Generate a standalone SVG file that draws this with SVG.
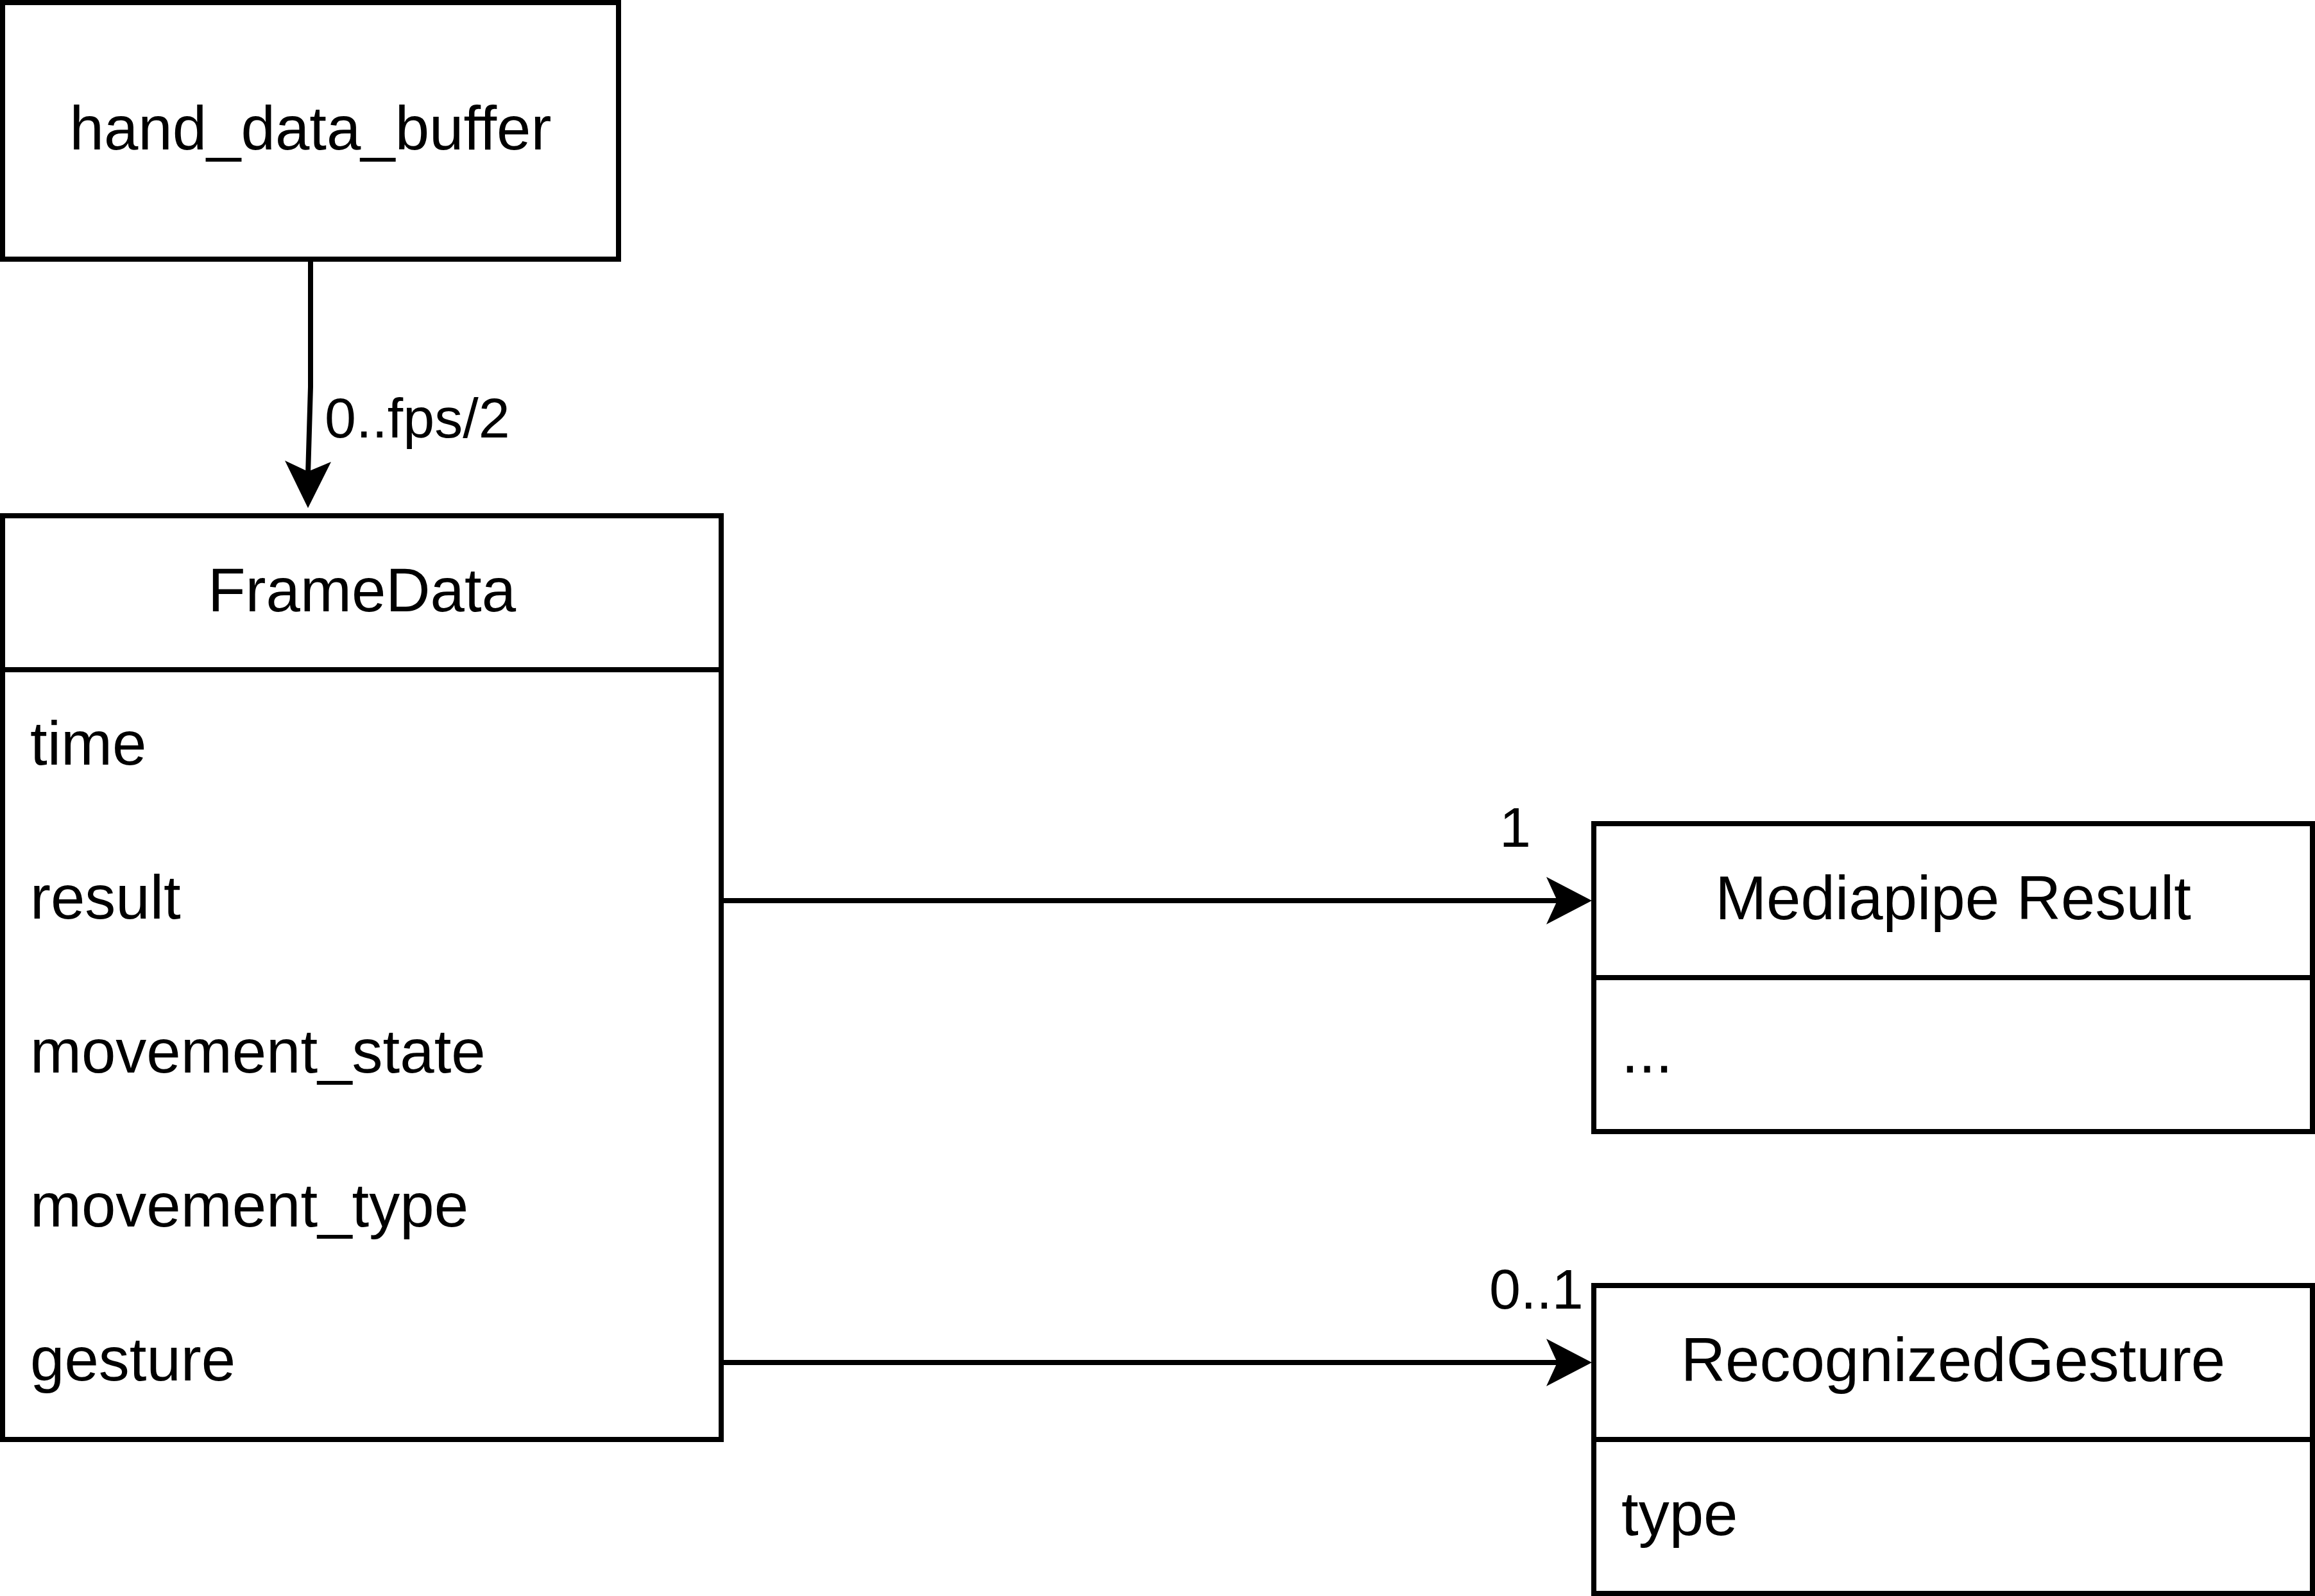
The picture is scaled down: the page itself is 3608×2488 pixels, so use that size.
<svg xmlns="http://www.w3.org/2000/svg" width="3608" height="2488" viewBox="0 0 3608 2488">
  <style>
    .box { fill: #ffffff; stroke: #000000; stroke-width: 8; }
    .div { stroke: #000000; stroke-width: 8; fill: none; }
    .edge { stroke: #000000; stroke-width: 8; fill: none; }
    .head { fill: #000000; stroke: none; }
    .t { font-family: "Liberation Sans", Arial, Helvetica, sans-serif; font-size: 96px; fill: #000000; }
    .c { text-anchor: middle; }
    .lbl { font-family: "Liberation Sans", Arial, Helvetica, sans-serif; font-size: 88px; fill: #000000; }
  </style>
  <rect x="0" y="0" width="3608" height="2488" fill="#ffffff"/>

  <g id="hand_data_buffer">
    <rect class="box" x="4" y="4" width="960" height="400"/>
    <text class="t c" x="484" y="233">hand_data_buffer</text>
  </g>

  <g id="FrameData">
    <rect class="box" x="4" y="804" width="1120" height="1440"/>
    <line class="div" x1="4" y1="1044" x2="1124" y2="1044"/>
    <text class="t c" x="564" y="953">FrameData</text>
    <text class="t" x="47" y="1192">time</text>
    <text class="t" x="47" y="1432">result</text>
    <text class="t" x="47" y="1672">movement_state</text>
    <text class="t" x="47" y="1912">movement_type</text>
    <text class="t" x="47" y="2152">gesture</text>
  </g>

  <g id="MediapipeResult">
    <rect class="box" x="2484" y="1284" width="1120" height="480"/>
    <line class="div" x1="2484" y1="1524" x2="3604" y2="1524"/>
    <text class="t c" x="3044" y="1433">Mediapipe Result</text>
    <text class="t" x="2527" y="1672">...</text>
  </g>

  <g id="RecognizedGesture">
    <rect class="box" x="2484" y="2004" width="1120" height="480"/>
    <line class="div" x1="2484" y1="2244" x2="3604" y2="2244"/>
    <text class="t c" x="3044" y="2153">RecognizedGesture</text>
    <text class="t" x="2527" y="2393">type</text>
  </g>

  <g id="connectors">
    <g id="edge-buffer-framedata">
      <path class="edge" d="M484,408 L484,603 L480,740"/>
      <path class="head" d="M480,792 L444,718 L480,735 L516,720 Z"/>
      <text class="lbl" x="506" y="682">0..fps/2</text>
    </g>
    <g id="edge-result-mediapipe">
      <path class="edge" d="M1124,1404 L2432,1404"/>
      <path class="head" d="M2481,1404 L2410,1367 L2427,1404 L2410,1441 Z"/>
      <text class="lbl" x="2337" y="1320">1</text>
    </g>
    <g id="edge-gesture-recognized">
      <path class="edge" d="M1124,2124 L2432,2124"/>
      <path class="head" d="M2481,2124 L2410,2087 L2427,2124 L2410,2161 Z"/>
      <text class="lbl" x="2321" y="2040">0..1</text>
    </g>
  </g>
</svg>
